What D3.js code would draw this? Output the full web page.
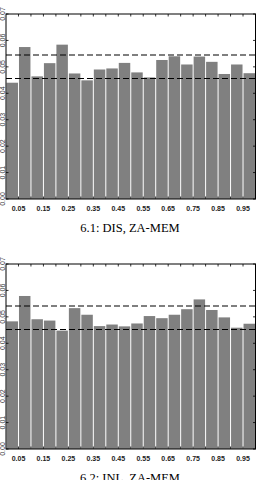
<!DOCTYPE html>
<html>
<head>
<meta charset="utf-8">
<script src="https://cdn.jsdelivr.net/npm/d3@7"></script>
<style>
  body { margin: 0; background: #fff; }
  svg { display: block; }
</style>
</head>
<body>
<div id="chart"></div>
<script>
// bin lower edges (width 0.05)
const bins = [0.00, 0.05, 0.10, 0.15, 0.20, 0.25, 0.30, 0.35, 0.40, 0.45,
              0.50, 0.55, 0.60, 0.65, 0.70, 0.75, 0.80, 0.85, 0.90, 0.95];
const binWidth = 0.05;

// 6.1 DIS
const disValues = [0.0440, 0.0575, 0.0464, 0.0514, 0.0584, 0.0475, 0.0449, 0.0490, 0.0494, 0.0515,
                   0.0479, 0.0460, 0.0526, 0.0540, 0.0509, 0.0539, 0.0519, 0.0473, 0.0509, 0.0476];
const disBounds = [0.0545, 0.0456];

// 6.2 INL
const inlValues = [0.0483, 0.0579, 0.0491, 0.0486, 0.0448, 0.0533, 0.0508, 0.0465, 0.0471, 0.0464,
                   0.0475, 0.0503, 0.0495, 0.0508, 0.0529, 0.0566, 0.0526, 0.0498, 0.0459, 0.0474];
const inlBounds = [0.0541, 0.0452];

const xTicks = [0.05, 0.10, 0.15, 0.20, 0.25, 0.30, 0.35, 0.40, 0.45, 0.50,
                0.55, 0.60, 0.65, 0.70, 0.75, 0.80, 0.85, 0.90, 0.95];
const xTickLabels = [0.05, 0.15, 0.25, 0.35, 0.45, 0.55, 0.65, 0.75, 0.85, 0.95];
const yTicks = [0.00, 0.01, 0.02, 0.03, 0.04, 0.05, 0.06, 0.07];

const captions = ["6.1: DIS, ZA-MEM", "6.2: INL, ZA-MEM"];

const W = 259, H = 480;
const svg = d3.select("#chart").append("svg")
  .attr("width", W).attr("height", H);

// plot box
const left = 6, right = 255.5, plotH = 185;
const x = d3.scaleLinear().domain([0, 1]).range([left, right]);
const y = d3.scaleLinear().domain([0, 0.07]).range([plotH, 0]);

drawPanel(0, disValues, disBounds, captions[0]);
drawPanel(250, inlValues, inlBounds, captions[1]);

function drawPanel(offsetY, values, bounds, caption) {
  const g = svg.append("g").attr("transform", `translate(0,${offsetY + 14})`);

  // bars
  g.append("g")
    .selectAll("rect")
    .data(bins)
    .join("rect")
    .attr("x", (d) => x(d) + 0.5)
    .attr("width", (d) => x(d + binWidth) - x(d) - 1)
    .attr("y", (d, i) => y(values[i]))
    .attr("height", (d, i) => y(0) - y(values[i]))
    .attr("fill", "#808080");

  // dashed bound lines
  g.append("g")
    .selectAll("line")
    .data(bounds)
    .join("line")
    .attr("x1", x(0)).attr("x2", x(1))
    .attr("y1", (d) => y(d)).attr("y2", (d) => y(d))
    .attr("stroke", "#000")
    .attr("stroke-width", 1.1)
    .attr("stroke-dasharray", "6,3");

  // frame
  g.append("rect")
    .attr("x", x(0)).attr("y", y(0.07))
    .attr("width", x(1) - x(0)).attr("height", y(0) - y(0.07))
    .attr("fill", "none")
    .attr("stroke", "#000")
    .attr("stroke-width", 1);

  // inward ticks, top and bottom
  const tk = g.append("g").attr("stroke", "#000").attr("stroke-width", 0.8);
  xTicks.forEach((t) => {
    tk.append("line").attr("x1", x(t)).attr("x2", x(t)).attr("y1", y(0.07)).attr("y2", y(0.07) + 2.5);
    tk.append("line").attr("x1", x(t)).attr("x2", x(t)).attr("y1", y(0)).attr("y2", y(0) - 2.5);
  });
  yTicks.forEach((t) => {
    tk.append("line").attr("x1", x(0)).attr("x2", x(0) + 2.5).attr("y1", y(t)).attr("y2", y(t));
    tk.append("line").attr("x1", x(1)).attr("x2", x(1) - 2.5).attr("y1", y(t)).attr("y2", y(t));
  });

  // x tick labels
  g.append("g")
    .selectAll("text")
    .data(xTickLabels)
    .join("text")
    .attr("x", (d) => x(d))
    .attr("y", y(0) + 12)
    .attr("text-anchor", "middle")
    .attr("font-family", "Liberation Sans, Arial, sans-serif")
    .attr("font-size", 7)
    .attr("font-weight", "bold")
    .attr("fill", "#222")
    .text((d) => d.toFixed(2));

  // y tick labels, rotated
  g.append("g")
    .selectAll("text")
    .data(yTicks)
    .join("text")
    .attr("transform", (d) => `translate(4.5,${y(d)}) rotate(-90)`)
    .attr("text-anchor", "middle")
    .attr("font-family", "Liberation Sans, Arial, sans-serif")
    .attr("font-size", 7)
    .attr("fill", "#333")
    .text((d) => d.toFixed(2));

  // caption
  g.append("text")
    .attr("x", 130)
    .attr("y", y(0) + 33)
    .attr("text-anchor", "middle")
    .attr("font-family", "Liberation Serif, DejaVu Serif, serif")
    .attr("font-size", 12.5)
    .attr("fill", "#000")
    .text(caption);
}
</script>
</body>
</html>
